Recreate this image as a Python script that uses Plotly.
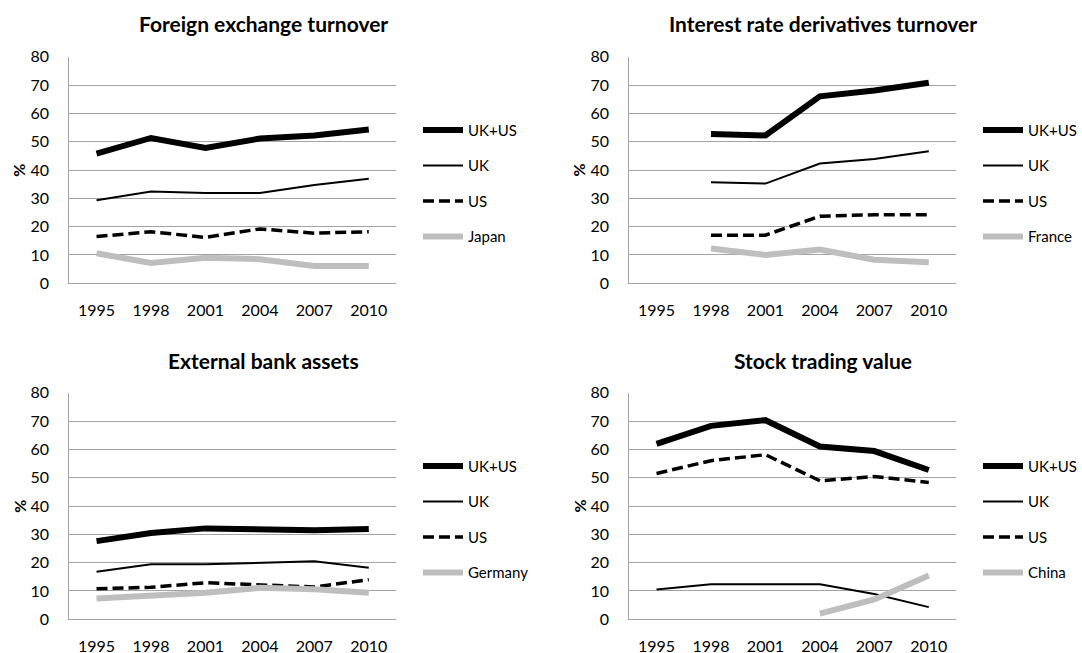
import plotly.graph_objects as go

# ---------------- data ----------------
years = ["1995", "1998", "2001", "2004", "2007", "2010"]
y_ticks = [0, 10, 20, 30, 40, 50, 60, 70, 80]
panel_titles = ["Foreign exchange turnover", "Interest rate derivatives turnover",
                "External bank assets", "Stock trading value"]
common_names = ["UK+US", "UK", "US"]
fourth_names = ["Japan", "France", "Germany", "China"]

fx_ukus = [45.8, 51.3, 47.8, 51.1, 52.2, 54.3]
fx_uk = [29.3, 32.4, 31.9, 31.9, 34.7, 36.9]
fx_us = [16.5, 18.2, 16.2, 19.2, 17.7, 18.2]
fx_japan = [10.6, 7.2, 9.0, 8.5, 6.1, 6.1]

ird_ukus = [None, 52.7, 52.2, 66.0, 68.1, 70.8]
ird_uk = [None, 35.7, 35.2, 42.3, 43.9, 46.6]
ird_us = [None, 17.0, 17.0, 23.7, 24.2, 24.2]
ird_france = [None, 12.3, 10.0, 11.9, 8.3, 7.4]

eba_ukus = [27.6, 30.5, 32.1, 31.6, 31.4, 31.9]
eba_uk = [16.8, 19.4, 19.4, 19.9, 20.5, 18.2]
eba_us = [10.8, 11.3, 12.9, 12.0, 11.4, 14.0]
eba_germany = [7.3, 8.4, 9.4, 11.1, 10.6, 9.4]

stv_ukus = [61.9, 68.3, 70.3, 61.0, 59.4, 52.7]
stv_uk = [10.5, 12.4, 12.4, 12.4, 8.9, 4.3]
stv_us = [51.5, 56.0, 58.1, 48.9, 50.4, 48.3]
stv_china = [None, None, None, 2.0, 7.0, 15.5]

panels = [
    [fx_ukus, fx_uk, fx_us, fx_japan],
    [ird_ukus, ird_uk, ird_us, ird_france],
    [eba_ukus, eba_uk, eba_us, eba_germany],
    [stv_ukus, stv_uk, stv_us, stv_china],
]

# ---------------- layout geometry (pixels) ----------------
FW, FH = 1082, 653
PLOT_LEFT = [69.3, 629.3, 69.3, 629.3]
PLOT_TOP = [56.7, 56.7, 392.7, 392.7]
PLOT_W, PLOT_H = 326.7, 226.6
TITLE_X = [263.5, 823, 263.5, 823]
TITLE_Y = [24, 24, 360, 360]
PCT_X = [18.7, 578.5, 18.7, 578.5]
LEG_DX = 22      # legend left edge relative to plot right edge
LEG_DY = 57      # legend top relative to plot top

FONT = "Lato"
GRID = "#A3A3A3"
GREY_LINE = "#BEBEBE"

styles = [
    dict(color="black", width=6),
    dict(color="black", width=2),
    dict(color="black", width=3.5, dash="11px,5px"),
    dict(color=GREY_LINE, width=6),
]


def px_x(x):
    return x / FW


def px_y(y):
    return 1 - y / FH


fig = go.Figure()
annotations = []
for i, series in enumerate(panels):
    ax = "" if i == 0 else str(i + 1)
    leg = "legend" if i == 0 else "legend%d" % (i + 1)
    names = common_names + [fourth_names[i]]
    for s, (vals, name) in enumerate(zip(series, names)):
        fig.add_trace(go.Scatter(
            x=years, y=vals, name=name, mode="lines",
            line=styles[s], connectgaps=False,
            xaxis="x" + ax, yaxis="y" + ax, legend=leg,
            legendgroup="g%d_%d" % (i, s),
        ))
    x0 = PLOT_LEFT[i]
    y0 = PLOT_TOP[i]
    fig.update_layout(**{
        "xaxis" + ax: dict(
            domain=[px_x(x0), px_x(x0 + PLOT_W)], anchor="y" + ax,
            type="category", range=[-0.5, 5.5], showgrid=False,
            showline=True, linecolor=GRID, linewidth=1, ticks="",
            tickfont=dict(family=FONT, size=16, color="black"),
            ticklabelstandoff=12, fixedrange=True, automargin=False,
        ),
        "yaxis" + ax: dict(
            domain=[px_y(y0 + PLOT_H), px_y(y0)], anchor="x" + ax,
            range=[0, 80], tickvals=y_ticks, showgrid=True,
            gridcolor=GRID, gridwidth=1, zeroline=False,
            showline=True, linecolor=GRID, linewidth=1, ticks="",
            tickfont=dict(family=FONT, size=16, color="black"),
            ticklabelstandoff=16, fixedrange=True, automargin=False,
        ),
        leg: dict(
            x=px_x(x0 + PLOT_W + LEG_DX), y=px_y(y0 + LEG_DY),
            xanchor="left", yanchor="top",
            font=dict(family=FONT, size=15, color="black"),
            bgcolor="rgba(0,0,0,0)", borderwidth=0,
            traceorder="grouped", tracegroupgap=13, itemwidth=40,
        ),
    })
    annotations.append(dict(
        text="<b>%s</b>" % panel_titles[i], x=px_x(TITLE_X[i]), y=px_y(TITLE_Y[i]),
        xref="paper", yref="paper", xanchor="center", yanchor="middle",
        showarrow=False, font=dict(family=FONT, size=21, color="black"),
    ))
    annotations.append(dict(
        text="<b>%</b>", x=px_x(PCT_X[i]), y=px_y(y0 + PLOT_H / 2),
        xref="paper", yref="paper", xanchor="center", yanchor="middle",
        textangle=-90, showarrow=False,
        font=dict(family=FONT, size=16, color="black"),
    ))

fig.update_layout(
    template="none",
    width=FW, height=FH,
    margin=dict(l=0, r=0, t=0, b=0, pad=0, autoexpand=False),
    paper_bgcolor="white", plot_bgcolor="white",
    annotations=annotations, showlegend=True,
)

fig.write_html(
    "out.html",
    config={"displayModeBar": False, "staticPlot": True},
    post_script="document.body.style.margin='0px';document.body.style.overflow='hidden';",
)
